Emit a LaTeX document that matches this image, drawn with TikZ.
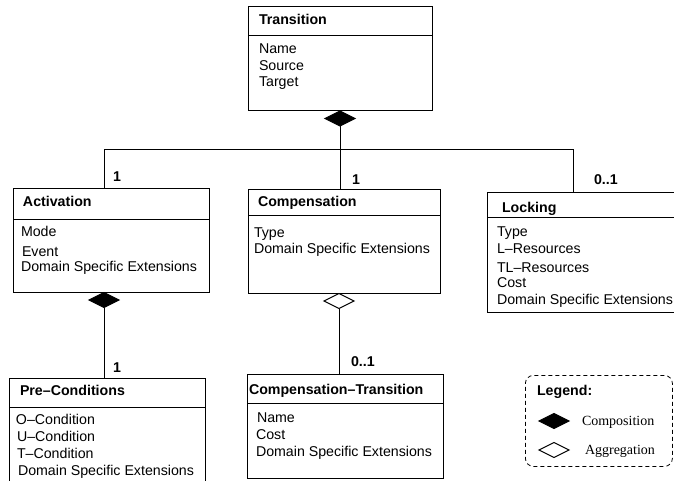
\documentclass[tikz,border=0pt]{standalone}
\usepackage{fontspec}
\setmainfont{Liberation Sans}
\newfontfamily\legendserif{Liberation Serif}
\usetikzlibrary{shapes.geometric}
\tikzset{
  umlbox/.style={draw=black, line width=1pt, inner sep=0pt, outer sep=0pt, anchor=north west},
  umlline/.style={draw=black, line width=1pt},
  txt/.style={anchor=base west, inner sep=0pt, outer sep=0pt, font=\fontsize{14.2}{17}\selectfont},
  hdr/.style={txt, font=\fontsize{14.2}{17}\selectfont\bfseries},
  mult/.style={txt, font=\fontsize{14.2}{17}\selectfont\bfseries},
  legtxt/.style={anchor=base west, inner sep=0pt, outer sep=0pt, font=\fontsize{14}{17}\selectfont\legendserif},
  compdia/.style={diamond, draw=black, fill=black, line width=1pt, inner sep=0pt, outer sep=0pt, minimum width=30pt, minimum height=15pt},
  aggdia/.style={diamond, draw=black, fill=white, line width=1pt, inner sep=0pt, outer sep=0pt, minimum width=30pt, minimum height=15pt},
  legendbox/.style={draw=black, line width=0.8pt, dash pattern=on 4pt off 3pt, rounded corners=8pt}
}
\begin{document}
\begin{tikzpicture}[x=1pt,y=-1pt]
\useasboundingbox (0,0) rectangle (674,481);
\clip (0,0) rectangle (674,481);
% Transition
\node[umlbox, minimum width=184pt, minimum height=104pt] (trans) at (248,7) {};
\draw[umlline] (248,36) -- (432,36);
\node[hdr] (transH) at (259,25) {Transition};
\node[txt] (trans1) at (259,54) {Name};
\node[txt] (trans2) at (259,71) {Source};
\node[txt] (trans3) at (259,87) {Target};
% Activation
\node[umlbox, minimum width=196pt, minimum height=103pt] (act) at (13,189) {};
\draw[umlline] (13,219) -- (209,219);
\node[hdr] (actH) at (23,207) {Activation};
\node[txt] (act1) at (21,236) {Mode};
\node[txt] (act2) at (22,256) {Event};
\node[txt] (act3) at (21,271) {Domain Specific Extensions};
% Compensation
\node[umlbox, minimum width=192pt, minimum height=103pt] (comp) at (248,190) {};
\draw[umlline] (248,215) -- (440,215);
\node[hdr] (compH) at (258,207) {Compensation};
\node[txt] (comp1) at (254,237) {Type};
\node[txt] (comp2) at (254,253) {Domain Specific Extensions};
% Locking
\node[umlbox, minimum width=220pt, minimum height=120pt] (lock) at (487,192) {};
\draw[umlline] (487,217) -- (707,217);
\node[hdr] (lockH) at (502,212) {Locking};
\node[txt] (lock1) at (497,236) {Type};
\node[txt] (lock2) at (497,253) {L--Resources};
\node[txt] (lock3) at (497,272) {TL--Resources};
\node[txt] (lock4) at (497,287) {Cost};
\node[txt] (lock5) at (497,304) {Domain Specific Extensions};
% Pre-Conditions
\node[umlbox, minimum width=196pt, minimum height=120pt] (pre) at (9,378) {};
\draw[umlline] (9,407) -- (205,407);
\node[hdr] (preH) at (20,395) {Pre--Conditions};
\node[txt] (pre1) at (16,424) {O--Condition};
\node[txt] (pre2) at (17,441) {U--Condition};
\node[txt] (pre3) at (17,458) {T--Condition};
\node[txt] (pre4) at (18,475) {Domain Specific Extensions};
% Compensation-Transition
\node[umlbox, minimum width=196pt, minimum height=104pt] (ct) at (247,374) {};
\draw[umlline] (247,403) -- (443,403);
\node[hdr] (ctH) at (249,394) {Compensation--Transition};
\node[txt] (ct1) at (257,422) {Name};
\node[txt] (ct2) at (256,439) {Cost};
\node[txt] (ct3) at (256,456) {Domain Specific Extensions};
% Diamonds
\node[compdia] (d1) at (340,118.5) {};
\node[compdia] (d2) at (104,300) {};
\node[aggdia] (d3) at (339,301) {};
% Connectors
\coordinate (actTop) at (104,189);
\coordinate (lockTop) at (573,192);
\coordinate (jl) at (104,150);
\coordinate (jr) at (573,150);
\draw[umlline] (actTop) -- (jl) -- (jr) -- (lockTop);
\draw[umlline] (d1.south) -- (d1.south |- comp.north);
\draw[umlline] (d2.south) -- (d2.south |- pre.north);
\draw[umlline] (d3.south) -- (d3.south |- ct.north);
% Multiplicities
\node[mult] (m1) at (113,182) {1};
\node[mult] (m2) at (352,185) {1};
\node[mult] (m3) at (594,185) {0..1};
\node[mult] (m4) at (113,372) {1};
\node[mult] (m5) at (351,366) {0..1};
% Legend
\node[legendbox, minimum width=147pt, minimum height=91pt, inner sep=0pt, anchor=north west] (leg) at (525,375) {};
\node[hdr] (legH) at (537,395) {Legend:};
\node[compdia] (ld1) at (554,421) {};
\node[aggdia] (ld2) at (554,450) {};
\node[legtxt] (legC) at (582,425) {Composition};
\node[legtxt] (legA) at (585,454) {Aggregation};
\end{tikzpicture}
\end{document}
